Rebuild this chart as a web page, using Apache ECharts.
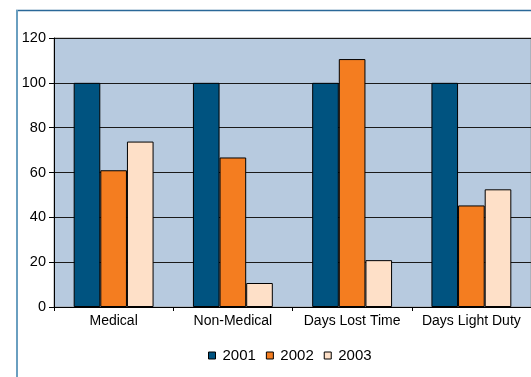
<!DOCTYPE html>
<html>
<head>
<meta charset="utf-8">
<script src="https://cdn.jsdelivr.net/npm/echarts@6/dist/echarts.min.js"></script>
<style>html,body{margin:0;padding:0;background:#fff;}#c{width:531px;height:377px;}</style>
</head>
<body>
<div id="c"></div>
<script>
const categories = ['Medical', 'Non-Medical', 'Days Lost Time', 'Days Light Duty'];
const seriesNames = ['2001', '2002', '2003'];
const values2001 = [100, 100, 100, 100];
const values2002 = [61, 66.7, 110.6, 45.3];
const values2003 = [73.8, 10.7, 20.9, 52.5];
const yTicks = [0, 20, 40, 60, 80, 100, 120];

const colors = ['#005380', '#f47d20', '#fee0c8'];
const font = '"Liberation Sans", Arial, sans-serif';
const chart = echarts.init(document.getElementById('c'), null, {renderer: 'canvas'});
const data = [values2001, values2002, values2003];
chart.setOption({
  animation: false,
  backgroundColor: '#ffffff',
  graphic: [
    {type: 'line', shape: {x1: 16, y1: 10.5, x2: 531, y2: 10.5}, style: {stroke: '#2a6898', lineWidth: 1.5}, z: 10},
    {type: 'line', shape: {x1: 17, y1: 10, x2: 17, y2: 377}, style: {stroke: '#6a9fc0', lineWidth: 2}, z: 10}
  ],
  grid: {left: 54, top: 38, width: 482, height: 269, show: true, backgroundColor: '#b7cadf', borderColor: '#9a9a9a', borderWidth: 1},
  legend: {
    data: seriesNames,
    left: 208, top: 348, padding: 0,
    itemWidth: 7, itemHeight: 7, itemGap: 10,
    icon: 'rect',
    textStyle: {fontFamily: font, fontSize: 15, color: '#000', padding: [0, 0, 0, 2]},
    itemStyle: {borderColor: '#000', borderWidth: 1}
  },
  xAxis: {
    type: 'category',
    data: categories,
    axisLine: {lineStyle: {color: '#000', width: 1}},
    axisTick: {show: true, length: 4, lineStyle: {color: '#000'}},
    axisLabel: {fontFamily: font, fontSize: 14, color: '#000', margin: 7, interval: 0}
  },
  yAxis: {
    type: 'value',
    min: yTicks[0], max: yTicks[yTicks.length - 1], interval: 20,
    axisLine: {show: true, lineStyle: {color: '#000', width: 1}},
    axisTick: {show: true, length: 5, lineStyle: {color: '#000'}},
    axisLabel: {fontFamily: font, fontSize: 14.5, color: '#000', margin: 8},
    splitLine: {show: true, lineStyle: {color: '#1a1a1a', width: 1}}
  },
  series: seriesNames.map((n, i) => ({
    name: n,
    type: 'bar',
    data: data[i],
    barGap: '0%',
    barCategoryGap: '33%',
    itemStyle: {color: colors[i], borderColor: '#000', borderWidth: 1}
  }))
});
</script>
</body>
</html>
